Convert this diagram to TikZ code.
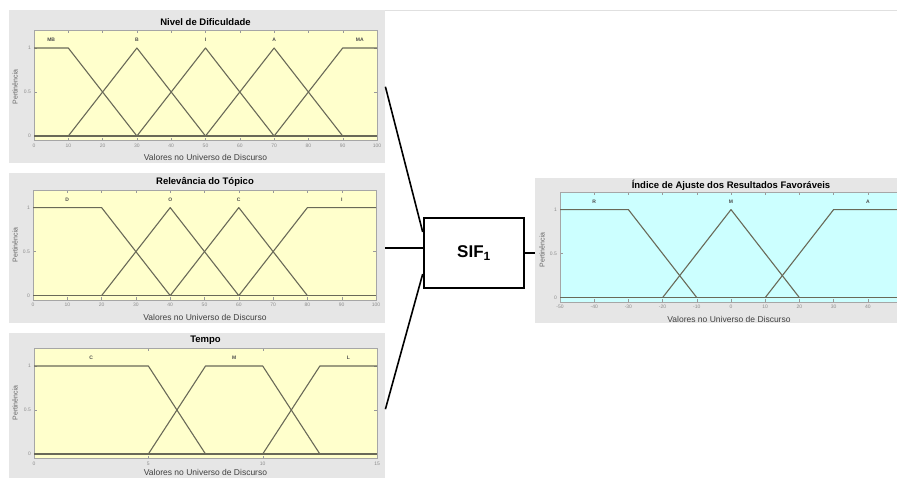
\documentclass[tikz,border=0pt]{standalone}
\usepackage{fontspec}
\setmainfont{Liberation Sans}
\definecolor{panelgray}{RGB}{230,230,230}
\definecolor{plotyellow}{RGB}{255,255,204}
\definecolor{plotcyan}{RGB}{204,255,255}
\definecolor{mfcol}{RGB}{105,105,88}
\begin{document}
\begin{tikzpicture}[x=1pt,y=-1pt,
    panel/.style={fill=panelgray,anchor=north west,inner sep=0pt},
    ttl/.style={font=\bfseries\fontsize{9.5}{11}\selectfont},
    xlab/.style={font=\fontsize{8.5}{10}\selectfont,text=black!75},
    ylab/.style={font=\fontsize{7}{8}\selectfont,rotate=90,text=black!60},
    ticklab/.style={font=\fontsize{5}{6}\selectfont,text=black!45,inner sep=1pt},
    mflab/.style={font=\bfseries\fontsize{5}{6}\selectfont,text=black!70},
    mf/.style={draw=mfcol,line width=1.1pt,line join=round},
    axbox/.style={draw=black!35,line width=0.4pt},
    tk/.style={draw=black!40,line width=0.4pt},
    conn/.style={line width=1.6pt},
    sifbox/.style={draw,line width=2.6pt,minimum width=100pt,minimum height=70pt,
      font=\bfseries\fontsize{17}{20}\selectfont}]
\useasboundingbox (0,0) rectangle (897,477);
\clip (0,0) rectangle (897,477);
\draw[black!12] (385,10) -- (897,10);

% Nivel de Dificuldade
\node[panel,minimum width=376pt,minimum height=153pt] (nivel) at (9,10) {};
\node[ttl] (nivelT) at (205.5,22) {Nivel de Dificuldade};
\node[ylab] (nivelY) at (15,87) {Pertinência};
\node[xlab] (nivelX) at (205.5,157) {Valores no Universo de Discurso};
\begin{scope}[shift={(34,136)},x=3.43pt,y=88pt]
  \fill[plotyellow] (0,-0.05) rectangle (100,1.2);
  \foreach \t in {0,10,...,100} {
    \draw[tk] (\t,-0.05) -- ++(0,0.03) (\t,1.2) -- ++(0,-0.03);
    \node[ticklab,below=2pt] at (\t,-0.05) {\t};
  }
  \foreach \v in {0,0.5,1} {
    \draw[tk] (0,\v) -- ++(1,0) (100,\v) -- ++(-1,0);
    \node[ticklab,left=2pt] at (0,\v) {\v};
  }
  \draw[axbox] (0,-0.05) rectangle (100,1.2);
  \draw[mf] (0,0) -- (100,0);
  \draw[mf] (0,1) -- (10,1) -- (30,0);
  \draw[mf] (10,0) -- (30,1) -- (50,0);
  \draw[mf] (30,0) -- (50,1) -- (70,0);
  \draw[mf] (50,0) -- (70,1) -- (90,0);
  \draw[mf] (70,0) -- (90,1) -- (100,1);
  \node[mflab] at (5,1.09) {MB};
  \node[mflab] at (30,1.09) {B};
  \node[mflab] at (50,1.09) {I};
  \node[mflab] at (70,1.09) {A};
  \node[mflab] at (95,1.09) {MA};
\end{scope}

% Relevancia do Topico
\node[panel,minimum width=376pt,minimum height=150pt] (relev) at (9,173) {};
\node[ttl] (relevT) at (205,182) {Relevância do Tópico};
\node[ylab] (relevY) at (15,245) {Pertinência};
\node[xlab] (relevX) at (205,317) {Valores no Universo de Discurso};
\begin{scope}[shift={(33,295.6)},x=3.43pt,y=88pt]
  \fill[plotyellow] (0,-0.05) rectangle (100,1.2);
  \foreach \t in {0,10,...,100} {
    \draw[tk] (\t,-0.05) -- ++(0,0.03) (\t,1.2) -- ++(0,-0.03);
    \node[ticklab,below=2pt] at (\t,-0.05) {\t};
  }
  \foreach \v in {0,0.5,1} {
    \draw[tk] (0,\v) -- ++(1,0) (100,\v) -- ++(-1,0);
    \node[ticklab,left=2pt] at (0,\v) {\v};
  }
  \draw[axbox] (0,-0.05) rectangle (100,1.2);
  \draw[mf] (0,0) -- (100,0);
  \draw[mf] (0,1) -- (20,1) -- (40,0);
  \draw[mf] (20,0) -- (40,1) -- (60,0);
  \draw[mf] (40,0) -- (60,1) -- (80,0);
  \draw[mf] (60,0) -- (80,1) -- (100,1);
  \node[mflab] at (10,1.09) {D};
  \node[mflab] at (40,1.09) {O};
  \node[mflab] at (60,1.09) {C};
  \node[mflab] at (90,1.09) {I};
\end{scope}

% Tempo
\node[panel,minimum width=376pt,minimum height=152pt] (tempo) at (9,333) {};
\node[ttl] (tempoT) at (205.5,340) {Tempo};
\node[ylab] (tempoY) at (15,403) {Pertinência};
\node[xlab] (tempoX) at (205.5,472) {Valores no Universo de Discurso};
\begin{scope}[shift={(34,454)},x=22.87pt,y=88pt]
  \fill[plotyellow] (0,-0.05) rectangle (15,1.2);
  \foreach \t in {0,5,10,15} {
    \draw[tk] (\t,-0.05) -- ++(0,0.03) (\t,1.2) -- ++(0,-0.03);
    \node[ticklab,below=2pt] at (\t,-0.05) {\t};
  }
  \foreach \v in {0,0.5,1} {
    \draw[tk] (0,\v) -- ++(0.15,0) (15,\v) -- ++(-0.15,0);
    \node[ticklab,left=2pt] at (0,\v) {\v};
  }
  \draw[axbox] (0,-0.05) rectangle (15,1.2);
  \draw[mf] (0,0) -- (15,0);
  \draw[mf] (0,1) -- (5,1) -- (7.5,0);
  \draw[mf] (5,0) -- (7.5,1) -- (10,1) -- (12.5,0);
  \draw[mf] (10,0) -- (12.5,1) -- (15,1);
  \node[mflab] at (2.5,1.09) {C};
  \node[mflab] at (8.75,1.09) {M};
  \node[mflab] at (13.75,1.09) {L};
\end{scope}

% Indice de Ajuste
\node[panel,minimum width=380pt,minimum height=145pt] (indice) at (535,178) {};
\node[ttl] (indiceT) at (731,185) {Índice de Ajuste dos Resultados Favoráveis};
\node[ylab] (indiceY) at (542,250) {Pertinência};
\node[xlab] (indiceX) at (729,319) {Valores no Universo de Discurso};
\begin{scope}[shift={(731,297.6)},x=3.42pt,y=88pt]
  \fill[plotcyan] (-50,-0.05) rectangle (50,1.2);
  \foreach \t in {-50,-40,...,40} {
    \draw[tk] (\t,-0.05) -- ++(0,0.03) (\t,1.2) -- ++(0,-0.03);
    \node[ticklab,below=2pt] at (\t,-0.05) {\t};
  }
  \foreach \v in {0,0.5,1} {
    \draw[tk] (-50,\v) -- ++(1,0);
    \node[ticklab,left=2pt] at (-50,\v) {\v};
  }
  \draw[axbox] (-50,-0.05) rectangle (50,1.2);
  \draw[mf] (-50,0) -- (50,0);
  \draw[mf] (-50,1) -- (-30,1) -- (-10,0);
  \draw[mf] (-20,0) -- (0,1) -- (20,0);
  \draw[mf] (10,0) -- (30,1) -- (50,1);
  \node[mflab] at (-40,1.09) {R};
  \node[mflab] at (0,1.09) {M};
  \node[mflab] at (40,1.09) {A};
\end{scope}

% SIF
\node[sifbox] (sif) at (474,253) {SIF\textsubscript{1}};
\draw[conn] (nivel.east) -- ([yshift=21pt]sif.west);
\draw[conn] (relev.east) -- (relev.east -| sif.west);
\draw[conn] (tempo.east) -- ([yshift=-21pt]sif.west);
\draw[conn] (sif.east) -- (indice.west |- sif.east);
\end{tikzpicture}
\end{document}
